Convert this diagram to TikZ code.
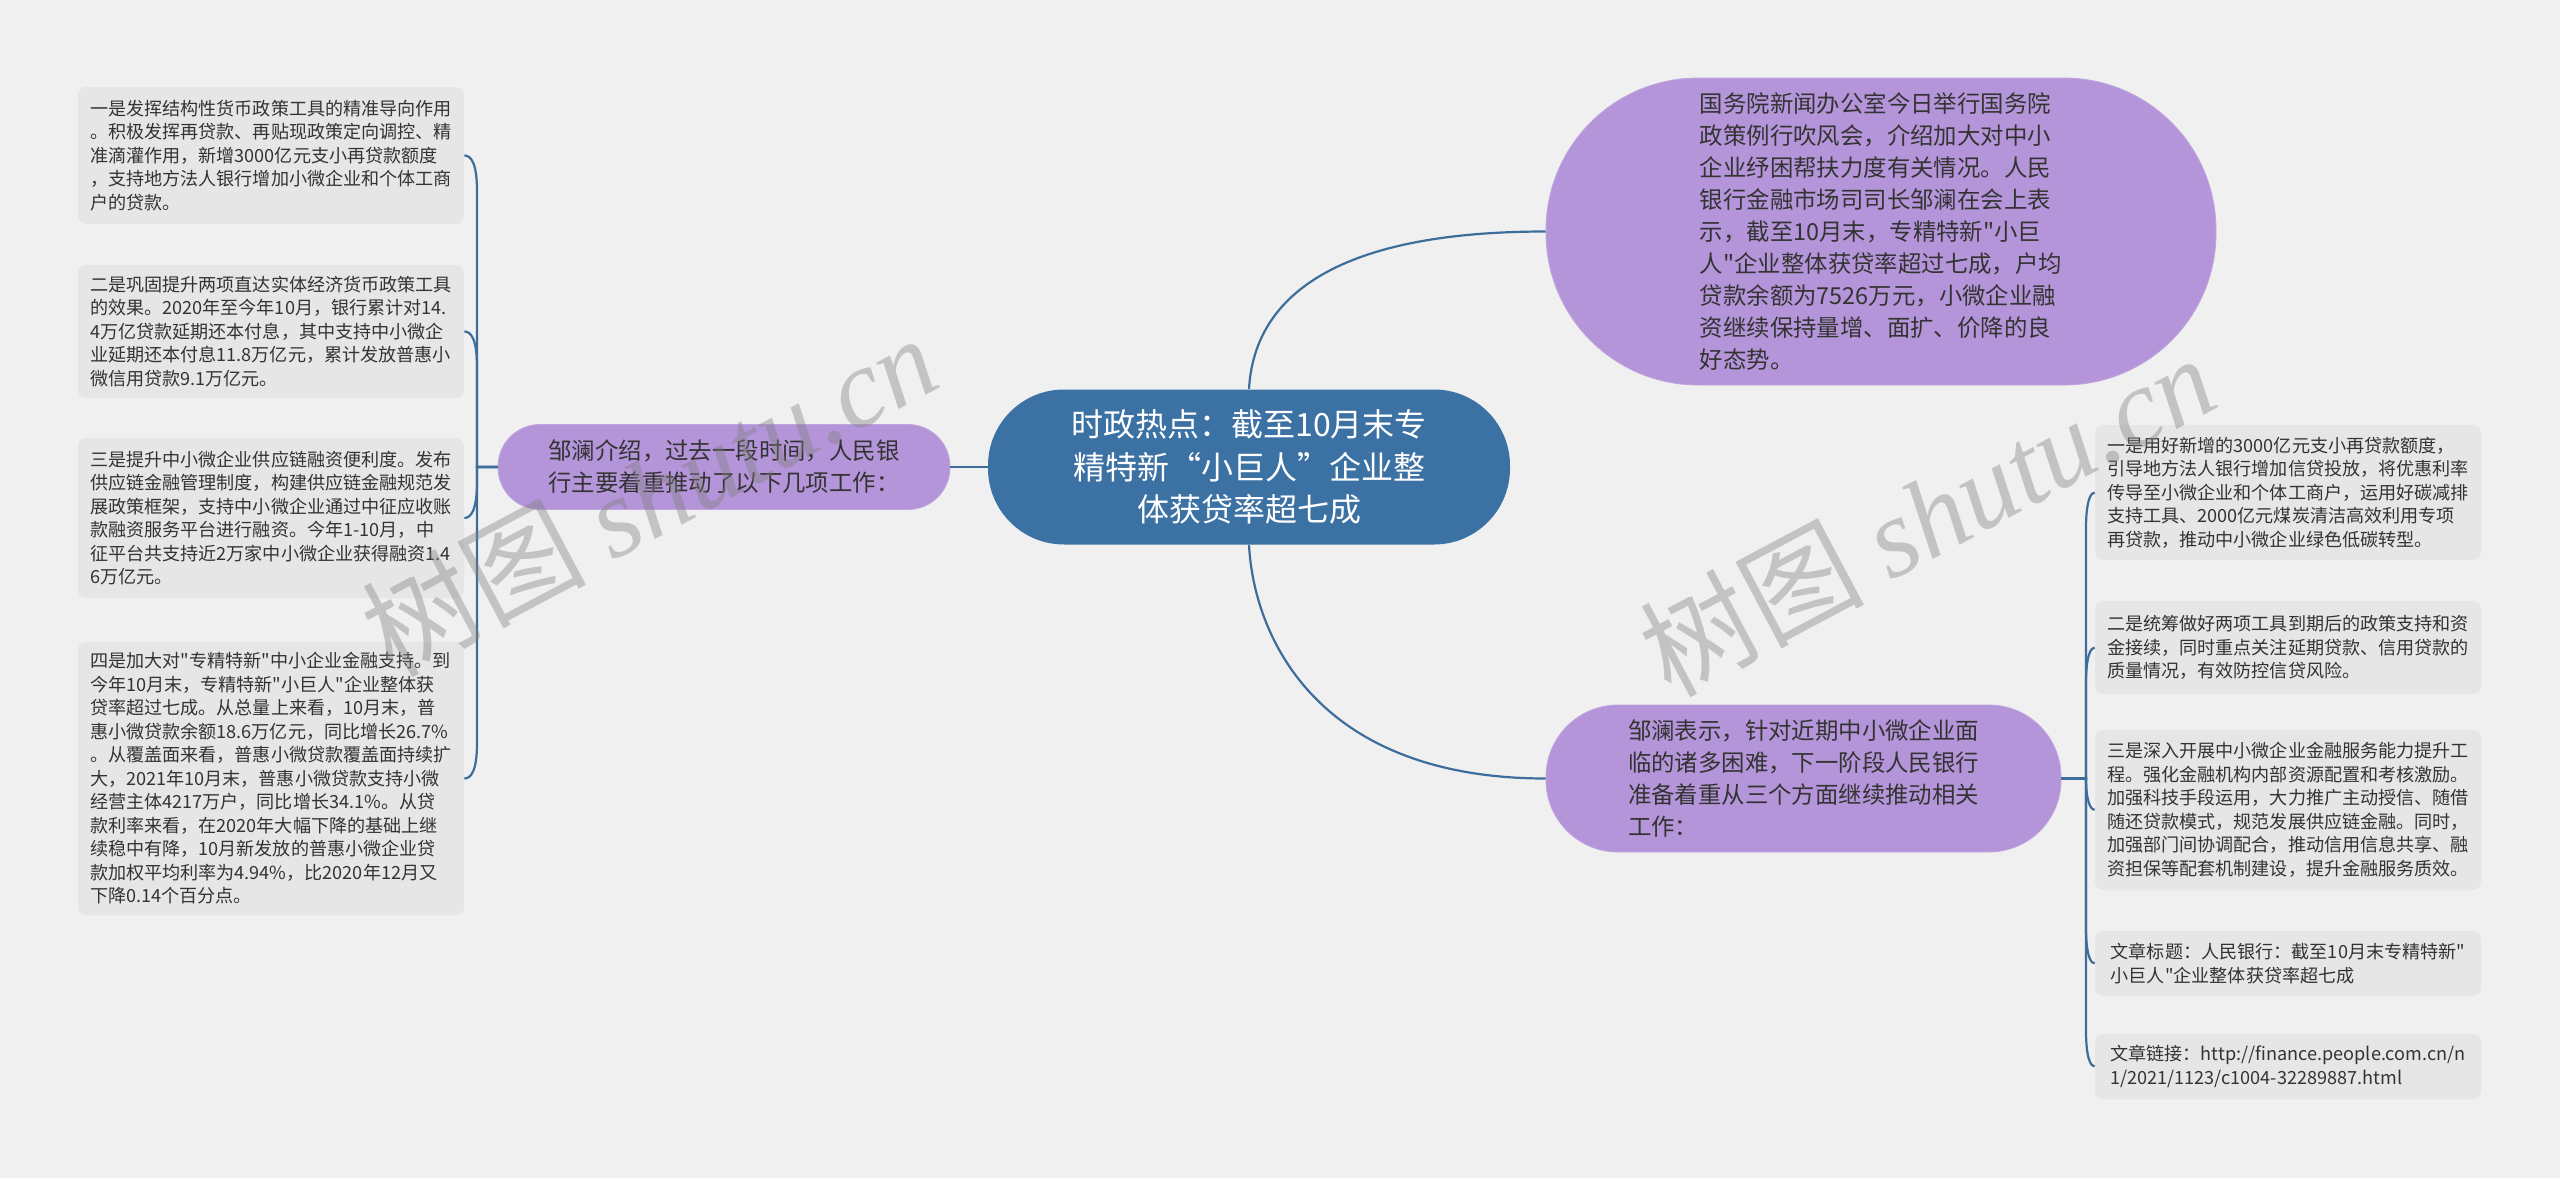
\documentclass[tikz,border=0pt]{standalone}
\usepackage{fontspec}
\setmainfont{Noto Sans CJK SC}[Ligatures=TeXOff]
\newfontfamily\wmserif{Liberation Serif}
\usepackage{tikz}
\definecolor{MapBg}{HTML}{F0F0F0}
\definecolor{MapLeaf}{HTML}{E6E6E6}
\definecolor{MapPurple}{HTML}{B595D9}
\definecolor{MapBlue}{HTML}{3C71A4}
\definecolor{MapLine}{HTML}{3D6E9B}
\definecolor{MapText}{HTML}{333333}

\begin{document}
\begin{tikzpicture}[x=0.5pt,y=-0.5pt]
  \tikzstyle{hub}=[fill=MapBlue,rounded corners=38pt,minimum width=261pt,
    minimum height=77.5pt,inner sep=0pt,align=center,text=white,
    font=\fontsize{16}{21.2}\selectfont]
  \tikzstyle{branch}=[fill=MapPurple,draw=MapPurple!85!white,inner sep=0pt,
    align=left,text=MapText,font=\fontsize{11.7}{16}\selectfont]
  \tikzstyle{leaf}=[fill=MapLeaf,rounded corners=4pt,minimum width=193pt,
    inner sep=0pt,align=left,text=MapText,
    font=\fontsize{9.05}{11.75}\selectfont]
  \tikzstyle{link}=[draw=MapLine,line width=1.1pt]
  \tikzstyle{watermark}=[rotate=28,text=gray,text opacity=0.4,
    font=\fontsize{56}{56}\selectfont]
  \fill[MapBg] (0,0) rectangle (2560,1178);
  \node[hub] (core) at (1249,467) {时政热点：截至10月末专\\精特新“小巨人”企业整\\
    体获贷率超七成};
  \node[branch,minimum width=226pt,minimum height=42.5pt,
    rounded corners=21pt] (measures) at (724,467)
    {邹澜介绍，过去一段时间，人民银\\行主要着重推动了以下几项工作：};
  \node[branch,minimum width=335pt,minimum height=153.5pt,
    rounded corners=76pt] (briefing) at (1881,231.5)
    {国务院新闻办公室今日举行国务院\\政策例行吹风会，介绍加大对中小\\
    企业纾困帮扶力度有关情况。人民\\银行金融市场司司长邹澜在会上表\\
    示，截至10月末，专精特新"小巨\\人"企业整体获贷率超过七成，户均\\
    贷款余额为7526万元，小微企业融\\资继续保持量增、面扩、价降的良\\
    好态势。};
  \node[branch,minimum width=257.5pt,minimum height=73.5pt,
    rounded corners=36pt] (plans) at (1803.5,778.5)
    {邹澜表示，针对近期中小微企业面\\临的诸多困难，下一阶段人民银行\\
    准备着重从三个方面继续推动相关\\工作：};
  \node[leaf,minimum height=68.5pt] (m1) at (271,155.5)
    {一是发挥结构性货币政策工具的精准导向作用\\。积极发挥再贷款、再贴现政策定向调控、精\\
    准滴灌作用，新增3000亿元支小再贷款额度\\，支持地方法人银行增加小微企业和个体工商\\
    户的贷款。};
  \node[leaf,minimum height=66.5pt] (m2) at (271,331.5)
    {二是巩固提升两项直达实体经济货币政策工具\\的效果。2020年至今年10月，银行累计对14.\\
    4万亿贷款延期还本付息，其中支持中小微企\\业延期还本付息11.8万亿元，累计发放普惠小\\
    微信用贷款9.1万亿元。};
  \node[leaf,minimum height=80pt] (m3) at (271,518)
    {三是提升中小微企业供应链融资便利度。发布\\供应链金融管理制度，构建供应链金融规范发\\
    展政策框架，支持中小微企业通过中征应收账\\款融资服务平台进行融资。今年1-10月，中\\
    征平台共支持近2万家中小微企业获得融资1.4\\6万亿元。};
  \node[leaf,minimum height=136.5pt] (m4) at (271,778.5)
    {四是加大对"专精特新"中小企业金融支持。到\\今年10月末，专精特新"小巨人"企业整体获\\
    贷率超过七成。从总量上来看，10月末，普\\惠小微贷款余额18.6万亿元，同比增长26.7\%\\
    。从覆盖面来看，普惠小微贷款覆盖面持续扩\\大，2021年10月末，普惠小微贷款支持小微\\
    经营主体4217万户，同比增长34.1\%。从贷\\款利率来看，在2020年大幅下降的基础上继\\
    续稳中有降，10月新发放的普惠小微企业贷\\款加权平均利率为4.94\%，比2020年12月又\\
    下降0.14个百分点。};
  \node[leaf,minimum height=67.5pt] (p1) at (2288,492.5)
    {一是用好新增的3000亿元支小再贷款额度，\\引导地方法人银行增加信贷投放，将优惠利率\\
    传导至小微企业和个体工商户，运用好碳减排\\支持工具、2000亿元煤炭清洁高效利用专项\\
    再贷款，推动中小微企业绿色低碳转型。};
  \node[leaf,minimum height=46.5pt] (p2) at (2288,647.5)
    {二是统筹做好两项工具到期后的政策支持和资\\金接续，同时重点关注延期贷款、信用贷款的\\
    质量情况，有效防控信贷风险。};
  \node[leaf,minimum height=80pt] (p3) at (2288,810)
    {三是深入开展中小微企业金融服务能力提升工\\程。强化金融机构内部资源配置和考核激励。\\
    加强科技手段运用，大力推广主动授信、随借\\随还贷款模式，规范发展供应链金融。同时，\\
    加强部门间协调配合，推动信用信息共享、融\\资担保等配套机制建设，提升金融服务质效。};
  \node[leaf,minimum height=32.5pt] (p4) at (2288,963.5)
    {文章标题：人民银行：截至10月末专精特新"\\小巨人"企业整体获贷率超七成};
  \node[leaf,minimum height=32.5pt] (p5) at (2288,1066.5)
    {文章链接：http://finance.people.com.cn/n\\1/2021/1123/c1004-32289887.html};
  \draw[link] (core.west) -- (measures.east);
  \draw[link] (core.north) .. controls (1254,300) and (1330,231.5) .. (briefing.west);
  \draw[link] (core.south) .. controls (1254,640) and (1320,778.5) .. (plans.west);
  \draw[link] (measures.west) -- (477,467) -- (477,191)
    .. controls (477,163) and (471,155.5) .. (m1.east);
  \draw[link] (measures.west) -- (477,467) -- (477,367)
    .. controls (477,339) and (471,331.5) .. (m2.east);
  \draw[link] (measures.west) -- (477,467) -- (477,482)
    .. controls (477,510) and (471,518) .. (m3.east);
  \draw[link] (measures.west) -- (477,467) -- (477,743)
    .. controls (477,771) and (471,778.5) .. (m4.east);
  \draw[link] (plans.east) -- (2086,778.5) -- (2086,528)
    .. controls (2086,500) and (2091,492.5) .. (p1.west);
  \draw[link] (plans.east) -- (2086,778.5) -- (2086,683)
    .. controls (2086,655) and (2091,647.5) .. (p2.west);
  \draw[link] (plans.east) -- (2086,778.5)
    .. controls (2086,802) and (2091,810) .. (p3.west);
  \draw[link] (plans.east) -- (2086,778.5) -- (2086,928)
    .. controls (2086,956) and (2091,963.5) .. (p4.west);
  \draw[link] (plans.east) -- (2086,778.5) -- (2086,1031)
    .. controls (2086,1059) and (2091,1066.5) .. (p5.west);
  \node[watermark] (wm1) at (649,494) {树图 {\wmserif\itshape shutu.cn}};
  \node[watermark] (wm2) at (1927,514) {树图 {\wmserif\itshape shutu.cn}};
\end{tikzpicture}
\end{document}
